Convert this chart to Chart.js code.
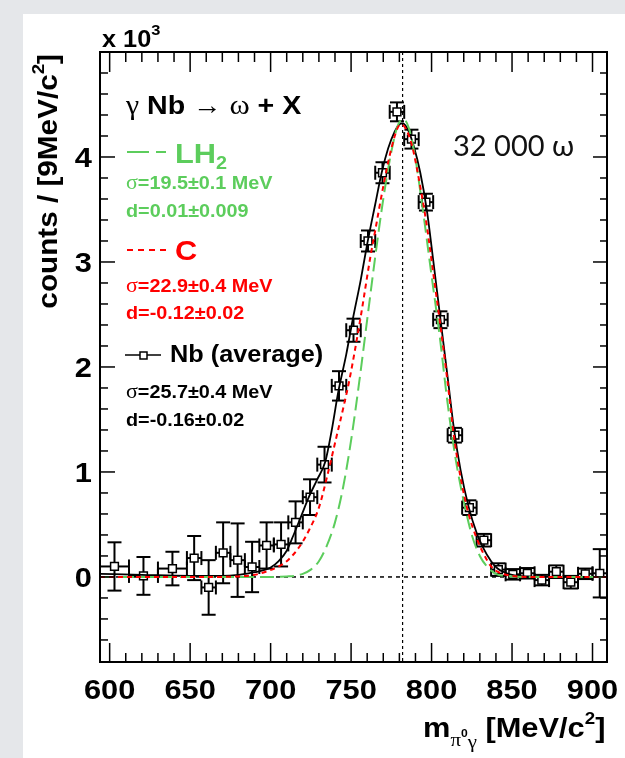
<!DOCTYPE html>
<html>
<head>
<meta charset="utf-8">
<script src="https://cdn.jsdelivr.net/npm/chart.js@4.4.0/dist/chart.umd.min.js"></script>
<style>
  html, body { margin: 0; padding: 0; background: #e5e7ea; }
  canvas { display: block; }
</style>
</head>
<body>
<canvas id="chart" width="625" height="758"></canvas>
<script>
// Nb data points (bin centre, half bin width, counts x10^3, error)
const binCenter = [603, 621, 639, 652.5, 661.5, 670.5, 679.5, 688.5, 697.5, 706.5, 715.5, 724.5, 733.5, 742.5, 751.5, 760.5, 769.5, 778.5, 787.5, 796.5, 805.5, 814.5, 823.5, 832.5, 841.5, 850.5, 859.5, 868.5, 877.5, 886.5, 895.5, 904.5]
const binHalfWidth = [9, 9, 9, 4.5, 4.5, 4.5, 4.5, 4.5, 4.5, 4.5, 4.5, 4.5, 4.5, 4.5, 4.5, 4.5, 4.5, 4.5, 4.5, 4.5, 4.5, 4.5, 4.5, 4.5, 4.5, 4.5, 4.5, 4.5, 4.5, 4.5, 4.5, 4.5]
const nbCounts = [0.10, 0.01, 0.08, 0.18, -0.10, 0.23, 0.16, 0.095, 0.30, 0.31, 0.52, 0.76, 1.07, 1.82, 2.35, 3.20, 3.85, 4.43, 4.17, 3.57, 2.45, 1.35, 0.66, 0.35, 0.07, 0.025, 0.035, -0.03, 0.05, -0.05, 0.03, 0.035]
const nbErrors = [0.23, 0.18, 0.16, 0.21, 0.26, 0.29, 0.35, 0.24, 0.22, 0.21, 0.20, 0.17, 0.17, 0.14, 0.11, 0.10, 0.10, 0.09, 0.09, 0.08, 0.08, 0.07, 0.07, 0.06, 0.06, 0.05, 0.05, 0.05, 0.06, 0.06, 0.05, 0.23]

// fitted line shapes
const nbFitMass = [594, 620, 650, 670, 680, 690, 700, 705, 710, 714, 719, 724, 729, 734, 738, 742, 747, 751, 756, 760, 765, 769, 773, 777, 780, 782, 785, 789, 793, 797, 801, 805, 810, 814, 818, 823, 828, 832, 837, 841, 846, 850, 860, 875, 909]
const nbFitCounts = [0.03, 0.02, 0.01, 0.01, 0.02, 0.045, 0.09, 0.15, 0.25, 0.39, 0.58, 0.77, 0.93, 1.1, 1.4, 1.76, 2.12, 2.45, 2.83, 3.17, 3.55, 3.85, 4.08, 4.24, 4.31, 4.32, 4.27, 4.1, 3.85, 3.5, 3.02, 2.52, 1.9, 1.4, 1.02, 0.67, 0.42, 0.28, 0.15, 0.08, 0.04, 0.02, 0.005, 0, 0]

const cFitMass = [594, 660, 680, 690, 697, 705, 710, 718, 724, 730, 735, 741, 745, 749, 756, 762, 765, 770, 775, 779, 781, 784, 788, 792, 797, 801, 805, 810, 814, 818, 823, 828, 832, 837, 841, 850, 860, 909]
const cFitCounts = [0, 0, 0.005, 0.02, 0.05, 0.1, 0.15, 0.29, 0.45, 0.66, 0.95, 1.34, 1.6, 1.88, 2.48, 3.05, 3.3, 3.72, 4.08, 4.28, 4.31, 4.27, 4.1, 3.8, 3.35, 2.9, 2.45, 1.85, 1.33, 0.95, 0.6, 0.37, 0.23, 0.1, 0.05, 0.01, 0, 0]

const lh2FitMass = [594, 700, 710, 715, 720, 725, 730, 735, 740, 745, 750, 755, 760, 765, 770, 775, 779, 782.5, 786, 790, 795, 800, 805, 810, 815, 820, 825, 830, 835, 840, 850, 860, 909]
const lh2FitCounts = [0, 0, 0.005, 0.01, 0.03, 0.07, 0.15, 0.3, 0.52, 0.85, 1.3, 1.85, 2.45, 3.05, 3.6, 4.05, 4.3, 4.36, 4.27, 3.98, 3.45, 2.87, 2.3, 1.65, 1.12, 0.72, 0.4, 0.2, 0.09, 0.03, 0.005, 0, 0]

const xTickLabels = [600, 650, 700, 750, 800, 850, 900]
const yTickLabels = [0, 1, 2, 3, 4]
const xMinorStep = 10
const yMinorStep = 0.2
const omegaMass = 782

const GREEN = '#5ccd5c'
const RED = '#ff0000'
const SANS = '"Liberation Sans", Arial, sans-serif'
const SERIF = '"Liberation Serif", "DejaVu Serif", serif'
const SX = 1.1

const toXY = (xs, ys) => xs.map((x, i) => ({ x: x, y: ys[i] }))

function runs(ctx, x, y, parts, color){
    ctx.save()
    ctx.fillStyle = color
    ctx.translate(x, y)
    ctx.scale(SX, 1)
    let cx = 0
    parts.forEach(p => {
        ctx.font = p[1]
        ctx.fillText(p[0], cx, p[2] || 0)
        cx += ctx.measureText(p[0]).width
    })
    ctx.restore()
    return cx * SX
}

function runsWidth(ctx, parts){
    let w = 0
    parts.forEach(p => { ctx.font = p[1]; w += ctx.measureText(p[0]).width })
    return w * SX
}

function line(ctx, x0, y0, x1, y1){
    ctx.beginPath()
    ctx.moveTo(x0, y0)
    ctx.lineTo(x1, y1)
    ctx.stroke()
}

const background = {
    id: 'background',
    beforeDraw(chart){
        const ctx = chart.ctx
        ctx.save()
        ctx.fillStyle = '#e5e7ea'
        ctx.fillRect(0, 0, chart.width, chart.height)
        ctx.fillStyle = '#ffffff'
        ctx.fillRect(23, 14, chart.width - 23, chart.height - 14)
        ctx.restore()
    }
}

const errorBars = {
    id: 'errorBars',
    beforeDatasetsDraw(chart){
        const { ctx, chartArea: a } = chart
        const xs = chart.scales.x, ys = chart.scales.y
        ctx.save()
        ctx.strokeStyle = '#000'

        // y = 0 and omega mass reference lines
        ctx.lineWidth = 1.5
        ctx.setLineDash([4, 4])
        const py0 = ys.getPixelForValue(0)
        line(ctx, a.left, py0, a.right, py0)
        ctx.lineWidth = 1.2
        ctx.setLineDash([3, 3])
        const pxw = xs.getPixelForValue(omegaMass)
        line(ctx, pxw, a.top, pxw, a.bottom)
        ctx.setLineDash([])

        ctx.lineWidth = 2
        binCenter.forEach((m, i) => {
            const px = xs.getPixelForValue(m)
            const py = ys.getPixelForValue(nbCounts[i])
            const x0 = xs.getPixelForValue(Math.max(m - binHalfWidth[i], xs.min))
            const x1 = xs.getPixelForValue(m + binHalfWidth[i])
            const y0 = ys.getPixelForValue(nbCounts[i] + nbErrors[i])
            const y1 = ys.getPixelForValue(nbCounts[i] - nbErrors[i])
            line(ctx, x0, py, x1, py)
            line(ctx, px, y0, px, y1)
            line(ctx, px - 7, y0, px + 7, y0)
            line(ctx, px - 7, y1, px + 7, y1)
            if(m - binHalfWidth[i] > xs.min) line(ctx, x0, py - 7, x0, py + 7)
            line(ctx, x1, py - 7, x1, py + 7)
        })
        ctx.restore()
    }
}

const frameTicks = {
    id: 'frameTicks',
    afterDatasetsDraw(chart){
        const { ctx, chartArea: a } = chart
        const xs = chart.scales.x, ys = chart.scales.y
        ctx.save()
        ctx.strokeStyle = '#000'
        ctx.lineWidth = 1.5
        for(let v = xTickLabels[0]; v <= xTickLabels[xTickLabels.length - 1]; v += xMinorStep){
            const px = xs.getPixelForValue(v)
            const major = xTickLabels.includes(v)
            line(ctx, px, a.bottom, px, a.bottom - (major ? 19 : 9))
            line(ctx, px, a.top, px, a.top + (major ? 20 : 10))
        }
        for(let i = Math.ceil(ys.min / yMinorStep); i * yMinorStep <= ys.max; i++){
            const v = i * yMinorStep
            const py = ys.getPixelForValue(v)
            if(py > a.bottom - 3 || py < a.top + 3) continue
            const major = i % 5 === 0
            line(ctx, a.left, py, a.left + (major ? 15 : 8), py)
            line(ctx, a.right, py, a.right - (major ? 14 : 7), py)
        }
        ctx.lineWidth = 2
        ctx.strokeRect(a.left, a.top, a.right - a.left, a.bottom - a.top)
        ctx.restore()
    }
}

const texts = {
    id: 'texts',
    afterDraw(chart){
        const { ctx } = chart
        const xs = chart.scales.x, ys = chart.scales.y
        const tickFont = `bold 28px ${SANS}`
        ctx.save()
        ctx.textBaseline = 'alphabetic'

        xTickLabels.forEach(v => {
            const parts = [[String(v), tickFont]]
            const w = runsWidth(ctx, parts)
            runs(ctx, xs.getPixelForValue(v) - w / 2, 699, parts, '#000')
        })
        yTickLabels.forEach(v => {
            const parts = [[String(v), tickFont]]
            const w = runsWidth(ctx, parts)
            runs(ctx, 92 - w, ys.getPixelForValue(v) + 10, parts, '#000')
        })

        runs(ctx, 102, 47, [['x 10', `bold 23px ${SANS}`], ['3', `bold 15px ${SANS}`, -12]], '#000')

        // x axis title
        runs(ctx, 423, 737, [
            ['m', `bold 28px ${SANS}`],
            ['π', `19px ${SERIF}`, 9],
            ['0', `bold 11px ${SANS}`, 0],
            ['γ', `19px ${SERIF}`, 11],
            [' [MeV/c', `bold 28px ${SANS}`],
            ['2', `bold 17px ${SANS}`, -13],
            [']', `bold 28px ${SANS}`]
        ], '#000')

        // y axis title
        const yParts = [
            ['counts / [9MeV/c', `bold 27px ${SANS}`],
            ['2', `bold 17px ${SANS}`, -13],
            [']', `bold 27px ${SANS}`]
        ]
        const yw = runsWidth(ctx, yParts)
        ctx.save()
        ctx.translate(57, 54 + yw)
        ctx.rotate(-Math.PI / 2)
        runs(ctx, 0, 0, yParts, '#000')
        ctx.restore()

        // legend block
        runs(ctx, 126, 114, [
            ['γ', `27px ${SERIF}`],
            [' Nb ', `bold 26px ${SANS}`],
            ['→', `26px ${SANS}`],
            [' ', `bold 25px ${SANS}`],
            ['ω', `28px ${SERIF}`],
            [' + X', `bold 26px ${SANS}`]
        ], '#000')

        ctx.lineWidth = 2
        ctx.strokeStyle = GREEN
        ctx.setLineDash([22, 7])
        line(ctx, 127, 152, 166, 152)
        ctx.strokeStyle = RED
        ctx.setLineDash([6, 5])
        line(ctx, 127, 250, 166, 250)
        ctx.setLineDash([])
        ctx.strokeStyle = '#000'
        ctx.lineWidth = 1.5
        line(ctx, 125, 355, 161, 355)
        ctx.fillStyle = '#fff'
        ctx.fillRect(140, 352, 7, 7)
        ctx.strokeRect(140, 352, 7, 7)

        runs(ctx, 175, 163, [['LH', `bold 28px ${SANS}`], ['2', `bold 18px ${SANS}`, 6]], GREEN)
        runs(ctx, 126, 189, [['σ', `20px ${SERIF}`], ['=19.5±0.1 MeV', `bold 18px ${SANS}`]], GREEN)
        runs(ctx, 126, 217, [['d=0.01±0.009', `bold 18px ${SANS}`]], GREEN)

        runs(ctx, 175, 260, [['C', `bold 28px ${SANS}`]], RED)
        runs(ctx, 126, 292, [['σ', `20px ${SERIF}`], ['=22.9±0.4 MeV', `bold 18px ${SANS}`]], RED)
        runs(ctx, 126, 319, [['d=-0.12±0.02', `bold 18px ${SANS}`]], RED)

        runs(ctx, 170, 362, [['Nb (average)', `bold 23px ${SANS}`]], '#000')
        runs(ctx, 126, 398, [['σ', `20px ${SERIF}`], ['=25.7±0.4 MeV', `bold 18px ${SANS}`]], '#000')
        runs(ctx, 126, 426, [['d=-0.16±0.02', `bold 18px ${SANS}`]], '#000')

        ctx.fillStyle = '#111'
        ctx.font = `29px Lato, "DejaVu Sans", sans-serif`
        ctx.fillText('32 000 ω', 453, 156)
        ctx.restore()
    }
}

new Chart(document.querySelector('#chart'), {
    type: 'scatter',
    data: {
        datasets: [
            {
                label: 'Nb (average)',
                data: toXY(binCenter, nbCounts),
                pointStyle: 'rect',
                pointRadius: 5.5,
                backgroundColor: '#fff',
                borderColor: '#000',
                borderWidth: 1.5,
                order: 4
            },
            {
                type: 'line',
                label: 'Nb fit',
                data: toXY(nbFitMass, nbFitCounts),
                borderColor: '#000',
                borderWidth: 1.8,
                pointRadius: 0,
                cubicInterpolationMode: 'monotone',
                order: 3
            },
            {
                type: 'line',
                label: 'LH2',
                data: toXY(lh2FitMass, lh2FitCounts),
                borderColor: GREEN,
                borderDash: [14, 6],
                borderWidth: 2,
                pointRadius: 0,
                cubicInterpolationMode: 'monotone',
                order: 2
            },
            {
                type: 'line',
                label: 'C',
                data: toXY(cFitMass, cFitCounts),
                borderColor: RED,
                borderDash: [5, 4],
                borderWidth: 2,
                pointRadius: 0,
                cubicInterpolationMode: 'monotone',
                order: 1
            }
        ]
    },
    options: {
        responsive: false,
        animation: false,
        devicePixelRatio: 1,
        layout: { padding: { left: 100, top: 52, right: 18, bottom: 96 } },
        scales: {
            x: { type: 'linear', min: 594, max: 909, display: false },
            y: { type: 'linear', min: -0.81, max: 5.0, display: false }
        },
        plugins: {
            legend: { display: false },
            tooltip: { enabled: false }
        }
    },
    plugins: [background, errorBars, frameTicks, texts]
})
</script>
</body>
</html>
